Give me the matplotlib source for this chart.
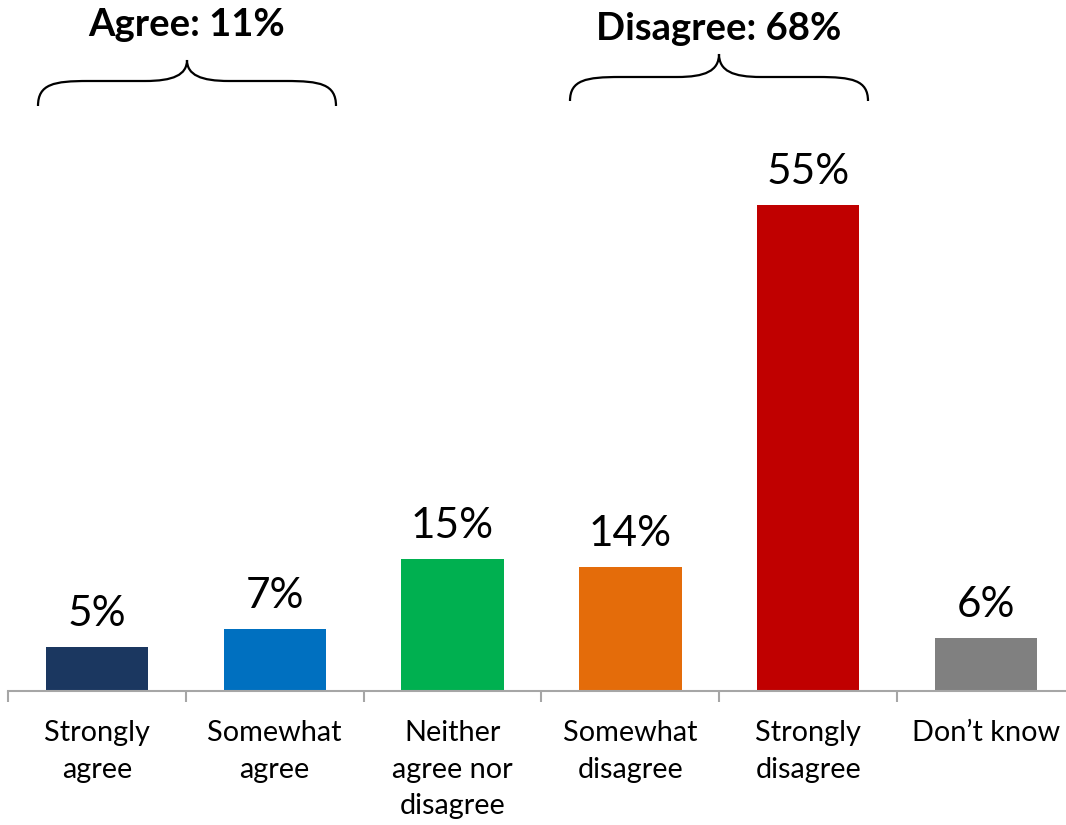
import matplotlib
matplotlib.use("Agg")
import matplotlib.pyplot as plt
from matplotlib.path import Path
from matplotlib.patches import PathPatch

plt.rcParams['font.family'] = ['Lato', 'DejaVu Sans']

categories = ["Strongly\nagree", "Somewhat\nagree", "Neither\nagree nor\ndisagree",
              "Somewhat\ndisagree", "Strongly\ndisagree", "Don\u2019t know"]
values = [5, 7, 15, 14, 55, 6]
colors = ["#1B3760", "#0070C0", "#00B050", "#E46C0A", "#C00000", "#808080"]
group_labels = ["Agree: 11%", "Disagree: 68%"]

W, H = 1066, 825
fig = plt.figure(figsize=(W / 100, H / 100), dpi=100)

# main bar axes, in pixel geometry
left_px, right_px = 8, 1075
base_px, top_px = 691, 161
ax = fig.add_axes([left_px / W, (H - base_px) / H,
                   (right_px - left_px) / W, (base_px - top_px) / H])
x = range(len(values))
ax.bar(x, values, width=0.575, color=colors, zorder=2)
ax.set_xlim(-0.5, len(values) - 0.5)
ax.set_ylim(0, 60)

for xi, v in zip(x, values):
    ax.annotate(f"{v}%", (xi, v), xytext=(0, 10), textcoords="offset points",
                ha="center", va="bottom", fontsize=30.5, color="black")

for s in ["top", "right", "left"]:
    ax.spines[s].set_visible(False)
ax.spines["bottom"].set_color("#A6A6A6")
ax.spines["bottom"].set_linewidth(1.5)
ax.set_yticks([])
ax.set_xticks([i - 0.5 for i in range(len(values) + 1)])
ax.set_xticklabels([])
ax.tick_params(axis="x", length=8, width=1.5, color="#A6A6A6", direction="out")
ax.set_xticks(list(x), minor=True)
ax.set_xticklabels(categories, minor=True, fontsize=20.8, linespacing=1.5)
ax.tick_params(axis="x", which="minor", length=0, pad=21)

# overlay for group braces and headers, pixel coordinates (y downward)
ov = fig.add_axes([0, 0, 1, 1], facecolor="none")
ov.set_xlim(0, W)
ov.set_ylim(H, 0)
ov.axis("off")


def brace(xm, half, y_end, y_bar, y_tip):
    x0, x1 = xm - half, xm + half
    verts = [
        (x0, y_end), (x0, y_bar + 3), (x0 + 16, y_bar), (x0 + 50, y_bar),
        (xm - 42, y_bar),
        (xm - 14, y_bar), (xm, y_bar - 6), (xm, y_tip),
        (xm, y_bar - 6), (xm + 14, y_bar), (xm + 42, y_bar),
        (x1 - 50, y_bar),
        (x1 - 16, y_bar), (x1, y_bar + 3), (x1, y_end),
    ]
    codes = [Path.MOVETO, Path.CURVE4, Path.CURVE4, Path.CURVE4,
             Path.LINETO,
             Path.CURVE4, Path.CURVE4, Path.CURVE4,
             Path.CURVE4, Path.CURVE4, Path.CURVE4,
             Path.LINETO,
             Path.CURVE4, Path.CURVE4, Path.CURVE4]
    ov.add_patch(PathPatch(Path(verts, codes), fill=False, lw=1.6, color="black"))


brace(187, 149, 106, 81, 60)
brace(719, 149, 101, 77, 54)
ov.text(187, 36, group_labels[0], ha="center", va="baseline",
        fontsize=27.5, fontweight="bold")
ov.text(719, 40, group_labels[1], ha="center", va="baseline",
        fontsize=27.5, fontweight="bold")

fig.savefig("out.png", dpi=100)
